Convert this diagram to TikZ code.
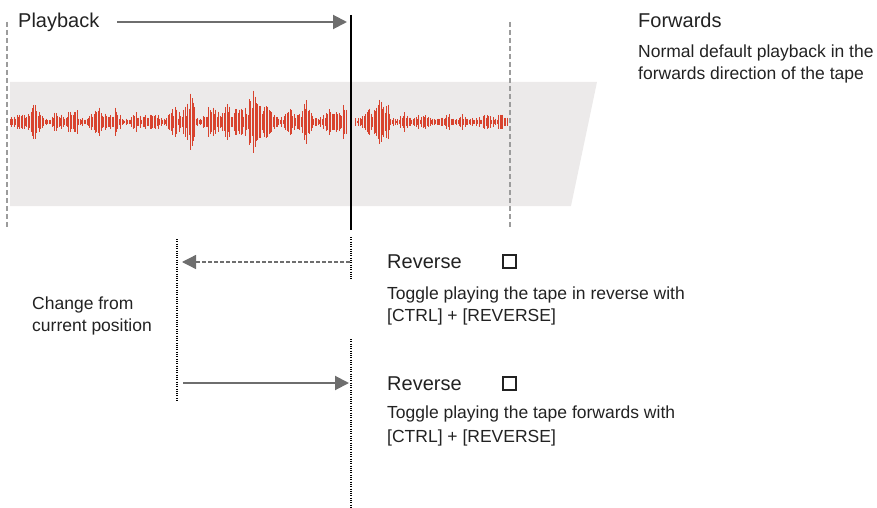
\documentclass[tikz,border=0pt]{standalone}
\usepackage{fontspec}
\setmainfont{Liberation Sans}
\usepackage{tikz}
\usetikzlibrary{arrows.meta,positioning,calc}

\definecolor{tapegrey}{HTML}{ECEAEA}
\definecolor{waved}{HTML}{D8432E}
\definecolor{arrowgrey}{HTML}{6E6E6E}
\definecolor{markgrey}{HTML}{9C9C9C}
\definecolor{textdark}{HTML}{222222}

\begin{document}
\begin{tikzpicture}[
        x=1pt, y=-1pt,
        every node/.style={text=textdark, inner sep=0pt},
        heading/.style={font=\fontsize{20}{23}\selectfont, anchor=base west},
        blurb/.style={font=\fontsize{17.5}{22}\selectfont, anchor=north west, align=left},
        checkbox/.style={draw=textdark, line width=1.6pt, minimum size=12.5pt, anchor=center},
        marker/.style={markgrey, line width=2pt, dash pattern=on 5pt off 3pt},
        playhead/.style={black, line width=2.2pt},
        dots/.style={black, line width=1.1pt, dash pattern=on 1pt off 1.3pt},
        arrow/.style={arrowgrey, line width=2pt, -{Triangle[length=14pt,width=14pt]}},
        dasharrow/.style={arrowgrey, line width=1.3pt, dash pattern=on 4pt off 2pt, -{Triangle[length=14pt,width=14pt]}},
        wave/.style={waved, line width=0.9pt}
        ]

        \useasboundingbox (0,0) rectangle (877,508);

        % Tape band behind the waveform
        \fill[tapegrey] (10,82) -- (597,82) -- (571,206) -- (10,206) -- cycle;

        % Waveform: bursts as centre/peak pairs, skipped under the playhead
        \pgfmathsetseed{11}
        \foreach \x in {10,11.4,...,508}{
            \pgfmathtruncatemacro\keep{(\x<347) || (\x>355)}
            \ifnum\keep=1
                \xdef\amp{3}
                \foreach \bc/\ba in {20/9, 35/16, 58/11, 73/17, 98/20, 115/11, 137/8, 152/10, 174/15, 190/25, 212/20, 228/18, 240/14, 253/35, 269/23, 290/10, 306/19, 329/14, 345/22, 368/15, 383/30, 405/6, 423/7, 446/7, 463/6, 485/7, 500/6}{
                    \pgfmathparse{\amp+\ba*max(0,1-abs(\x-\bc)/12)^1.5}
                    \xdef\amp{\pgfmathresult}
                }
                \pgfmathsetmacro\h{\amp*(0.3+0.8*rnd)}
                \draw[wave] (\x,{122-\h}) -- (\x,{122+\h});
            \fi
        }

        % Start and end markers of the clip
        \coordinate (clipstarttop) at (7,22);
        \coordinate (clipstartbot) at (7,229);
        \coordinate (clipendtop) at (510,22);
        \coordinate (clipendbot) at (510,228);
        \draw[marker] (clipstarttop) -- (clipstartbot);
        \draw[marker] (clipendtop) -- (clipendbot);

        % Playhead
        \coordinate (headtop) at (351,15);
        \coordinate (headbot) at (351,230);
        \draw[playhead] (headtop) -- (headbot);

        % Forward playback
        \node[heading] (playback) at (18,28) {Playback};
        \coordinate (playfrom) at (117,22);
        \coordinate (playto) at (347,22);
        \draw[arrow] (playfrom) -- (playto);

        \node[heading] (fwd) at (638,28) {Forwards};
        \node[blurb] (fwdtext) at (638,45) {Normal default playback in the\\forwards direction of the tape};

        % Dotted guides for the change of direction
        \coordinate (curtop) at (351,237);
        \coordinate (curmid) at (351,279);
        \coordinate (curlow) at (351,339);
        \coordinate (curbot) at (351,508);
        \coordinate (oldtop) at (177,239);
        \coordinate (oldbot) at (177,401);
        \draw[dots] (curtop) -- (curmid);
        \draw[dots] (curlow) -- (curbot);
        \draw[dots] (oldtop) -- (oldbot);

        \node[blurb] (change) at (32,297) {Change from\\current position};

        % Reverse on
        \coordinate (revfrom) at (350,262);
        \coordinate (revto) at (182,262);
        \draw[dasharrow] (revfrom) -- (revto);
        \node[heading] (rev) at (387,268) {Reverse};
        \node[checkbox] (revbox) at (509.5,261.5) {};
        \node[blurb] (revtext) at (387,287) {Toggle playing the tape in reverse with\\{[CTRL] + [REVERSE]}};

        % Reverse off
        \coordinate (fwdfrom) at (183,383);
        \coordinate (fwdto) at (349,383);
        \draw[arrow] (fwdfrom) -- (fwdto);
        \node[heading] (revoff) at (387,390) {Reverse};
        \node[checkbox] (revoffbox) at (509.5,383.5) {};
        \node[blurb, font=\fontsize{17.5}{24}\selectfont] (revofftext) at (387,406) {Toggle playing the tape forwards with\\{[CTRL] + [REVERSE]}};

    \end{tikzpicture}
\end{document}
